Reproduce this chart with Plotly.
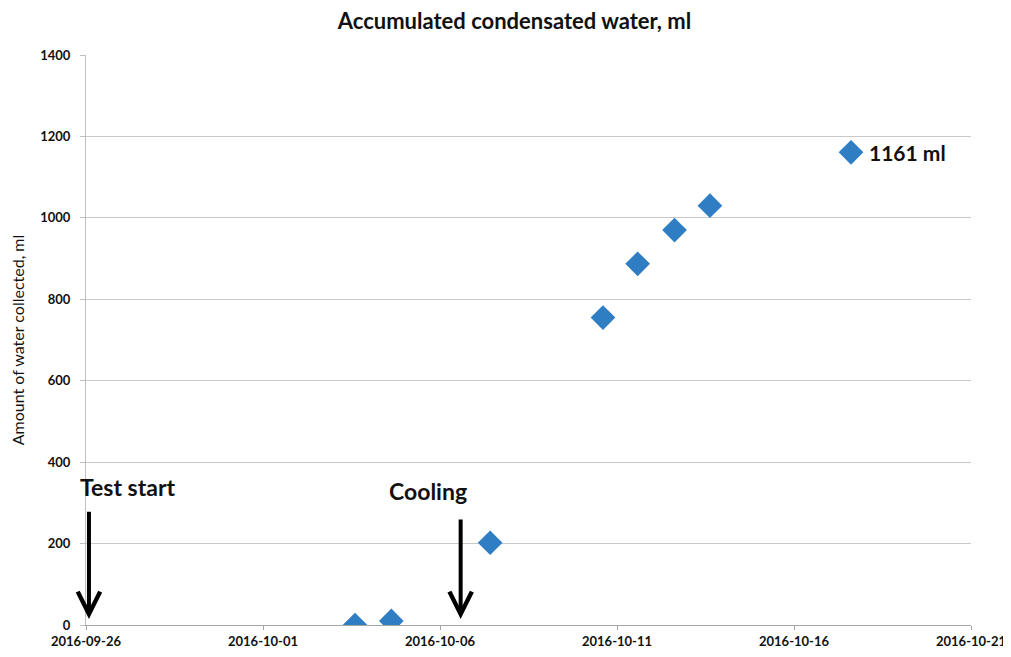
import plotly.graph_objects as go

dates = ["2016-10-03 14:24", "2016-10-04 15:00", "2016-10-07 10:00", "2016-10-10 14:30",
         "2016-10-11 14:00", "2016-10-12 15:00", "2016-10-13 15:00", "2016-10-17 14:40"]
water_ml = [0, 10, 202, 755, 887, 970, 1030, 1161]

x_ticks = ["2016-09-26", "2016-10-01", "2016-10-06", "2016-10-11", "2016-10-16", "2016-10-21"]
y_ticks = [0, 200, 400, 600, 800, 1000, 1200, 1400]

FONT = "Lato"
blue = "#2F7EC4"

fig = go.Figure()
fig.add_trace(go.Scatter(
    x=dates, y=water_ml, mode="markers",
    marker=dict(symbol="diamond", size=19, color=blue, line=dict(width=0)),
    showlegend=False,
))

# label for last point
fig.add_annotation(x=dates[-1], y=water_ml[-1], text=f"<b>{water_ml[-1]} ml</b>",
                   showarrow=False, xanchor="left", xshift=16,
                   font=dict(family=FONT, size=21, color="#111"))

# arrows
arrow_events = [
    ("Test start", "2016-09-26 02:00", 282),
    ("Cooling", "2016-10-06 14:00", 263),
]
for label, xd, ytop in arrow_events:
    fig.add_annotation(x=xd, y=15, ax=xd, ay=ytop, xref="x", yref="y", axref="x", ayref="y",
                       text="", showarrow=True, arrowhead=5, arrowsize=1.1, arrowwidth=4,
                       arrowcolor="#000")

fig.add_annotation(x="2016-09-26", y=340, text="<b>Test start</b>", showarrow=False,
                   xanchor="left", xshift=-8, font=dict(family=FONT, size=23, color="#111"))
fig.add_annotation(x="2016-10-05 16:00", y=330, text="<b>Cooling</b>", showarrow=False,
                   xanchor="center", font=dict(family=FONT, size=23, color="#111"))

fig.update_layout(
    width=1003, height=641,
    margin=dict(l=78, r=40, t=47, b=24),
    paper_bgcolor="white", plot_bgcolor="white",
    title=dict(text="<b>Accumulated condensated water, ml</b>", x=0.505, xanchor="center",
               y=1 - 13 / 641, yanchor="middle", font=dict(family=FONT, size=22, color="#111")),
    font=dict(family=FONT, color="#111"),
)
fig.update_xaxes(
    type="date", range=["2016-09-26", "2016-10-21"], automargin=False,
    tickvals=x_ticks, ticktext=[f"<b>{t}</b>" for t in x_ticks],
    showgrid=False, zeroline=False,
    showline=True, linecolor="#a6a6a6", linewidth=1,
    ticks="outside", ticklen=4, tickcolor="#a6a6a6",
    tickfont=dict(family=FONT, size=13, color="#111"),
)
fig.update_yaxes(
    range=[0, 1400], automargin=False,
    tickvals=y_ticks, ticktext=[f"<b>{v}</b>" for v in y_ticks],
    showgrid=True, gridcolor="#c8c8c8", gridwidth=1, zeroline=False,
    showline=True, linecolor="#bfbfbf", linewidth=1,
    ticks="outside", ticklen=5, tickcolor="#bfbfbf", ticklabelstandoff=7,
    tickfont=dict(family=FONT, size=13, color="#111"),
    title=dict(text="Amount of water collected, ml", standoff=15,
               font=dict(family=FONT, size=16, color="#111")),
)

fig.write_html("out.html")
